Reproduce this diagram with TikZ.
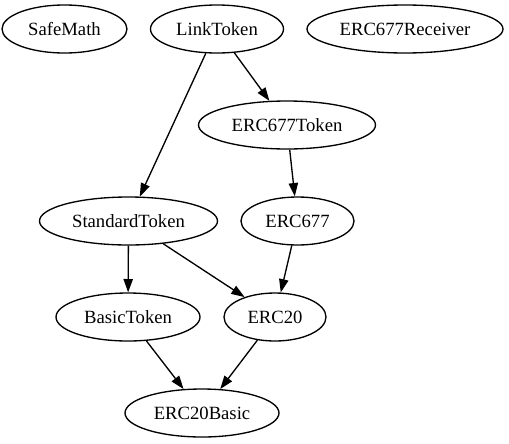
\documentclass[tikz,border=0pt]{standalone}
\usepackage{fontspec}
\setmainfont{Liberation Serif}
\newfontfamily\ctrfont{Liberation Serif}
\usetikzlibrary{arrows.meta,shapes}

\tikzset{
  ctr/.style={draw, ellipse, line width=1pt, inner sep=0pt, minimum height=36pt,
    font=\ctrfont\fontsize{14pt}{16pt}\selectfont},
  dep/.style={-{Triangle[length=10pt,width=7pt]}, line width=1pt},
}

\begin{document}
\begin{tikzpicture}[x=0.75pt,y=-0.75pt]
\useasboundingbox (0,0) rectangle (509,443);
%% contracts
\node[ctr, minimum width=93.75pt] (SafeMath) at (64.5,29) {SafeMath};
\node[ctr, minimum width=99.75pt] (LinkToken) at (217,29) {LinkToken};
\node[ctr, minimum width=147pt] (ERC677Receiver) at (405,29) {ERC677Receiver};
\node[ctr, minimum width=132.75pt] (ERC677Token) at (287,125) {ERC677Token};
\node[ctr, minimum width=133.5pt] (StandardToken) at (128.5,221) {StandardToken};
\node[ctr, minimum width=84.75pt] (ERC677) at (297.5,221) {ERC677};
\node[ctr, minimum width=108pt] (BasicToken) at (128,317) {BasicToken};
\node[ctr, minimum width=76.5pt] (ERC20) at (275,317) {ERC20};
\node[ctr, minimum width=115.5pt] (ERC20Basic) at (202,413) {ERC20Basic};
%% inheritance
\draw[dep] (LinkToken) -- (StandardToken);
\draw[dep] (LinkToken) -- (ERC677Token);
\draw[dep] (ERC677Token) -- (ERC677);
\draw[dep] (StandardToken) -- (BasicToken);
\draw[dep] (StandardToken) -- (ERC20);
\draw[dep] (ERC677) -- (ERC20);
\draw[dep] (BasicToken) -- (ERC20Basic);
\draw[dep] (ERC20) -- (ERC20Basic);
\end{tikzpicture}
\end{document}
